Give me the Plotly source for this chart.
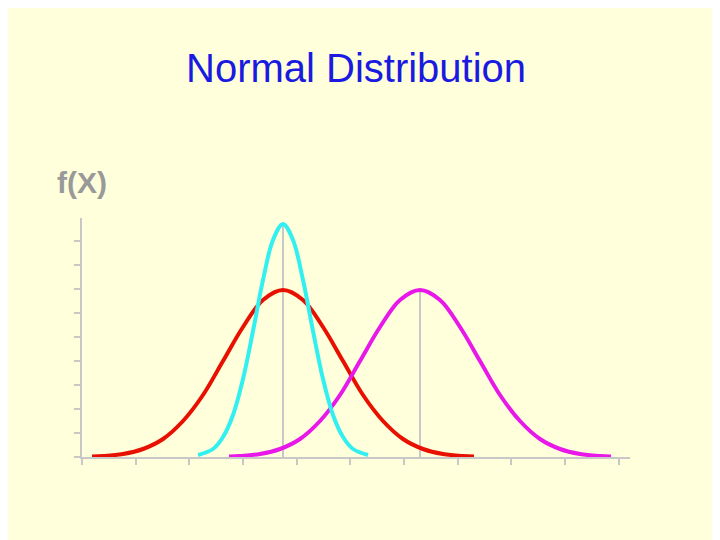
import plotly.graph_objects as go

# valores (unidades do eixo = posição horizontal / altura da curva)
x_vermelha = [92, 103, 123, 143, 163, 183, 203, 223, 243, 263, 283,
              303, 323, 343, 363, 383, 403, 423, 443, 463, 474]
y_vermelha = [0.6, 1, 3, 8, 18, 36, 62, 96, 130, 157, 167,
              157, 130, 96, 62, 36, 18, 8, 3, 1, 0.6]
x_magenta = [229, 240, 260, 280, 300, 320, 340, 360, 380, 400, 420,
             440, 460, 480, 500, 520, 540, 560, 580, 600, 611]
y_magenta = [0.6, 1, 3, 8, 18, 36, 62, 96, 130, 157, 167,
             157, 130, 96, 62, 36, 18, 8, 3, 1, 0.6]
x_ciano = [198, 213, 223, 233, 243, 253, 263, 273, 283,
           293, 303, 313, 323, 333, 343, 353, 368]
y_ciano = [2, 8, 20, 42, 78, 126, 177, 217, 233,
           217, 177, 126, 78, 42, 20, 8, 2]
medias = [283, 420]
picos = [233, 167]
ticks_x = [82, 136, 189, 243, 297, 350, 404, 458, 511, 565, 619]
ticks_y = [0, 24, 48, 72, 96, 120, 144, 168, 192, 216]

CINZA = "#c8c8c8"
fig = go.Figure()
for m, p in zip(medias, picos):
    fig.add_scatter(x=[m, m], y=[0, p], mode="lines",
                    line=dict(color=CINZA, width=2), hoverinfo="skip")
fig.add_scatter(x=x_vermelha, y=y_vermelha, mode="lines", line_shape="spline",
                line=dict(color="#e81000", width=4))
fig.add_scatter(x=x_magenta, y=y_magenta, mode="lines", line_shape="spline",
                line=dict(color="#e818e8", width=4))
fig.add_scatter(x=x_ciano, y=y_ciano, mode="lines", line_shape="spline",
                line=dict(color="#33f0f0", width=4))

eixo = dict(showgrid=False, zeroline=False, showticklabels=False,
            showline=True, linecolor=CINZA, linewidth=2,
            ticks="outside", tickcolor=CINZA, ticklen=6, tickwidth=2,
            tickmode="array")
# a página tem margem de 8 px; a figura é reduzida e deslocada para compensar
fig.update_layout(
    width=712, height=532, showlegend=False,
    paper_bgcolor="#ffffdc", plot_bgcolor="#ffffdc",
    margin=dict(l=74, r=90, t=210, b=83),
    xaxis=dict(eixo, range=[82, 630], tickvals=ticks_x),
    yaxis=dict(eixo, range=[0, 239], tickvals=ticks_y),
    font=dict(family="Liberation Sans, Arial, sans-serif"),
)
fig.add_annotation(text="Normal Distribution", x=0.5, y=1 + (218 - 68) / 239,
                   xref="paper", yref="paper", yanchor="middle", showarrow=False,
                   font=dict(size=40, color="#1a1ae0"))
fig.add_annotation(text="<b>f(X)</b>", x=82, y=1 + (218 - 182) / 239, xref="x",
                   yref="paper", yanchor="middle", showarrow=False,
                   font=dict(size=30, color="#999999"))
fig.add_annotation(text="<b>X</b>", x=656, y=0, xref="x", yref="y", yanchor="middle",
                   showarrow=False, font=dict(size=32, color="#999999"))
fig.write_html("out.html")
